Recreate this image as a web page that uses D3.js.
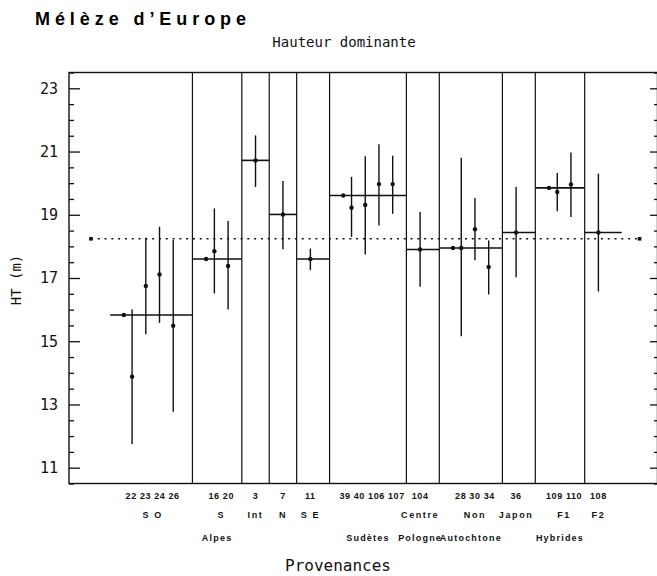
<!DOCTYPE html>
<html lang="fr">
<head>
  <meta charset="UTF-8">
  <title>Mélèze d'Europe – Hauteur dominante</title>
  <script src="https://d3js.org/d3.v7.min.js"></script>
  <style>
    body { margin: 0; background: #fff; }
    svg { display: block; }
    .mono { font-family: "DejaVu Sans Mono", monospace; fill: #111; }
    .lab { font-family: "Liberation Sans", Arial, sans-serif; font-weight: bold; fill: #111; }
    .axis path { display: none; }
    .axis line { stroke: #111; stroke-width: 1.3; }
    .axis text { font-family: "DejaVu Sans Mono", monospace; font-size: 15px; fill: #111; }
  </style>
</head>
<body>
  <svg id="chart"></svg>
  <script>
    // 1. data
    const provenances = ["22","23","24","26","16","20","3","7","11","39","40","106","107","104","28","30","34","36","109","110","108"];
    const provGroup   = [0,0,0,0,1,1,2,3,4,5,5,5,5,6,7,7,7,8,9,9,10];
    const htMean = [13.88,16.75,17.11,15.49,17.85,17.38,20.72,19.01,17.60,19.22,19.31,19.97,19.97,17.90,17.95,18.54,17.35,18.44,19.72,19.96,18.44];
    const htLow  = [11.75,15.22,15.58,12.77,16.51,16.00,19.88,17.91,17.25,18.30,17.74,18.66,19.03,16.72,15.16,17.56,16.48,17.02,19.11,18.93,16.57];
    const htHigh = [16.00,18.27,18.62,18.20,19.20,18.80,21.51,20.07,17.93,20.20,20.85,21.23,20.87,19.09,20.80,19.53,18.19,19.88,20.32,20.97,20.30];
    const groupNames  = ["S O","S","Int","N","S E","","Centre","Non","Japon","F1","F2"];
    const regionNames = ["","Alpes","","","","Sudètes","Pologne","Autochtone","","Hybrides",""];
    const groupMean   = [15.83,17.60,20.72,19.01,17.60,19.61,17.90,17.95,18.44,19.85,18.44];
    const overallMean = 18.24;
    const yTicks = [11,13,15,17,19,21,23];

    // 2. svg & scales
    const W = 657, H = 576;
    const svg = d3.select("#chart").attr("width", W).attr("height", H);
    // right border sits on the edge of the picture
    const frame = { left: 69, right: 657.5, top: 72.5, bottom: 483.5 };

    const y = d3.scaleLinear().domain([10.5, 23.5]).range([frame.bottom, frame.top]);
    const x = d3.scaleLinear().domain([-3.6, 39.2]).range([69, 656]);

    // slot layout: groups with several provenances keep one extra slot for the group mean
    const groups = groupNames.map((name, gi) => ({
      name, region: regionNames[gi], mean: groupMean[gi],
      members: provenances.map((p, i) => i).filter(i => provGroup[i] === gi)
    }));
    const slot = [];
    let s = 0;
    groups.forEach(g => {
      const multi = g.members.length > 1;
      if (multi) { g.dot = s + 0.4; s += 1; }
      g.members.forEach(i => { slot[i] = s; s += 1; });
      g.first = multi ? g.dot : slot[g.members[0]];
      g.left = g.first - 1;
      g.last = slot[g.members[g.members.length - 1]];
      s += 1;
    });
    groups.forEach((g, gi) => {
      g.right = gi < groups.length - 1 ? groups[gi + 1].left : g.last + 1.7;
    });

    // 3. frame & axes
    svg.append("rect")
      .attr("x", frame.left).attr("y", frame.top)
      .attr("width", frame.right - frame.left).attr("height", frame.bottom - frame.top)
      .attr("fill", "none").attr("stroke", "#111").attr("stroke-width", 1.4);

    const minor = d3.range(10.5, 23.51, 0.5).filter(v => !yTicks.includes(v));

    svg.append("g").attr("class", "axis")
      .attr("transform", `translate(${frame.left},0)`)
      .call(d3.axisLeft(y).tickValues(yTicks).tickSize(-11).tickSizeOuter(0).tickPadding(11));
    svg.append("g").attr("class", "axis")
      .attr("transform", `translate(${frame.left},0)`)
      .call(d3.axisLeft(y).tickValues(minor).tickSize(-5).tickSizeOuter(0).tickFormat(""));
    svg.append("g").attr("class", "axis")
      .attr("transform", `translate(657,0)`)
      .call(d3.axisRight(y).tickValues(yTicks).tickSize(-7).tickSizeOuter(0).tickFormat(""));
    svg.append("g").attr("class", "axis")
      .attr("transform", `translate(657,0)`)
      .call(d3.axisRight(y).tickValues(minor).tickSize(-3).tickSizeOuter(0).tickFormat(""));

    // 4. separators between groups
    svg.append("g").selectAll("line")
      .data(groups.slice(1))
      .join("line")
        .attr("x1", g => x(g.left)).attr("x2", g => x(g.left))
        .attr("y1", frame.top).attr("y2", frame.bottom)
        .attr("stroke", "#111").attr("stroke-width", 1.2);

    // 5. overall mean (dotted)
    svg.append("line")
      .attr("x1", x(-2)).attr("x2", x(38))
      .attr("y1", y(overallMean)).attr("y2", y(overallMean))
      .attr("stroke", "#111").attr("stroke-width", 1.6)
      .attr("stroke-dasharray", "2,4.8");
    svg.append("g").selectAll("rect")
      .data([-2, 38])
      .join("rect")
        .attr("x", d => x(d) - 1.8).attr("y", y(overallMean) - 1.8)
        .attr("width", 3.6).attr("height", 3.6).attr("fill", "#111");

    // 6. group means
    svg.append("g").selectAll("line")
      .data(groups)
      .join("line")
        .attr("x1", g => x(g.left)).attr("x2", g => x(g.right))
        .attr("y1", g => y(g.mean)).attr("y2", g => y(g.mean))
        .attr("stroke", "#111").attr("stroke-width", 1.6);
    svg.append("g").selectAll("circle")
      .data(groups.filter(g => g.dot !== undefined))
      .join("circle")
        .attr("cx", g => x(g.dot)).attr("cy", g => y(g.mean))
        .attr("r", 2.2).attr("fill", "#111");

    // 7. provenances: range + mean
    const idx = d3.range(provenances.length);
    svg.append("g").selectAll("line")
      .data(idx)
      .join("line")
        .attr("x1", i => x(slot[i])).attr("x2", i => x(slot[i]))
        .attr("y1", i => y(htLow[i])).attr("y2", i => y(htHigh[i]))
        .attr("stroke", "#111").attr("stroke-width", 1.4);
    svg.append("g").selectAll("circle")
      .data(idx)
      .join("circle")
        .attr("cx", i => x(slot[i])).attr("cy", i => y(htMean[i]))
        .attr("r", 2.2).attr("fill", "#111");

    // 8. labels under the frame
    const cx = g => x((slot[g.members[0]] + g.last) / 2);
    const rx = g => x((g.first + g.last) / 2);
    svg.append("g").selectAll("text")
      .data(groups)
      .join("text")
        .attr("class", "lab")
        .attr("x", cx).attr("y", 498.5)
        .attr("text-anchor", "middle")
        .style("font-size", "9px").style("letter-spacing", "0.6px")
        .text(g => g.members.map(i => provenances[i]).join(" "));
    svg.append("g").selectAll("text")
      .data(groups.filter(g => g.name))
      .join("text")
        .attr("class", "lab")
        .attr("x", cx).attr("y", 517.5)
        .attr("text-anchor", "middle")
        .style("font-size", "9px").style("letter-spacing", "1.6px")
        .text(g => g.name);
    svg.append("g").selectAll("text")
      .data(groups.filter(g => g.region))
      .join("text")
        .attr("class", "lab")
        .attr("x", rx).attr("y", 540.5)
        .attr("text-anchor", "middle")
        .style("font-size", "9px").style("letter-spacing", "1.2px")
        .text(g => g.region);

    // 9. titles
    svg.append("text")
      .attr("x", 35).attr("y", 25)
      .attr("textLength", 211).attr("lengthAdjust", "spacing")
      .style("font-family", "'Liberation Sans', Arial, sans-serif")
      .style("font-weight", "bold").style("font-size", "18px")
      .text("Mélèze d’Europe");

    svg.append("text").attr("class", "mono")
      .attr("x", 344).attr("y", 47)
      .attr("text-anchor", "middle")
      .style("font-size", "14px")
      .text("Hauteur dominante");

    svg.append("text").attr("class", "mono")
      .attr("x", 338).attr("y", 571)
      .attr("text-anchor", "middle")
      .style("font-size", "16px")
      .text("Provenances");

    svg.append("text").attr("class", "mono")
      .attr("transform", `translate(21,280) rotate(-90)`)
      .attr("text-anchor", "middle")
      .style("font-size", "14px")
      .text("HT (m)");
  </script>
</body>
</html>
